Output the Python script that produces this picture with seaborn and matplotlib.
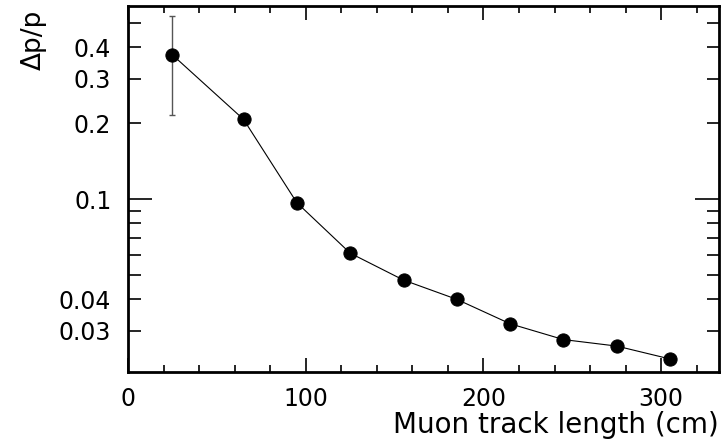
import numpy as np
import pandas as pd
import seaborn as sns
import matplotlib
matplotlib.use("Agg")
import matplotlib.pyplot as plt
from matplotlib.ticker import FixedLocator, FuncFormatter, MultipleLocator

# ===== data =====
track_length = [25, 65, 95, 125, 155, 185, 215, 245, 275, 305]
dp_over_p = [0.373, 0.207, 0.0967, 0.0610, 0.0477, 0.0400, 0.0320, 0.0277, 0.0261, 0.0232]
dp_error = [0.157, 0.007, 0.004, 0.0, 0.0, 0.0, 0.0, 0.0, 0.0, 0.0]

y_labelled = [0.03, 0.04, 0.1, 0.2, 0.3, 0.4]
y_minor = [0.03, 0.04, 0.05, 0.06, 0.07, 0.08, 0.09, 0.2, 0.3, 0.4, 0.5]

df = pd.DataFrame({"length": track_length, "res": dp_over_p, "err": dp_error})

sns.set_style("ticks")
plt.rcParams["font.family"] = ["DejaVu Sans"]
plt.rcParams["text.color"] = "black"
plt.rcParams["axes.labelcolor"] = "black"
plt.rcParams["xtick.color"] = "black"
plt.rcParams["ytick.color"] = "black"

fig = plt.figure(figsize=(7.24, 4.47), dpi=100)
ax = fig.add_axes([128 / 724, 1 - 372 / 447, 591 / 724, 366 / 447])

ax.errorbar(df["length"], df["res"], yerr=df["err"], fmt="none",
            ecolor="#555555", elinewidth=1.0, capsize=2.5, capthick=1.0, zorder=1)
sns.lineplot(data=df, x="length", y="res", ax=ax, color="black", linewidth=0.8,
             marker="o", markersize=9.5, markeredgecolor="black", zorder=2)

ax.set_yscale("log")
ax.set_xlim(0, 332.5)
ax.set_ylim(0.0206, 0.583)

# x ticks
ax.xaxis.set_major_locator(MultipleLocator(100))
ax.xaxis.set_minor_locator(MultipleLocator(20))

# y ticks: only 0.1 gets a long tick, the rest are short ones
ax.yaxis.set_major_locator(FixedLocator([0.1]))
ax.yaxis.set_major_formatter(FuncFormatter(lambda v, p: "0.1"))
ax.yaxis.set_minor_locator(FixedLocator(y_minor))
ax.yaxis.set_minor_formatter(FuncFormatter(
    lambda v, p: ("%g" % v) if any(abs(v - t) < 1e-9 for t in y_labelled) else ""))

ax.tick_params(which="both", direction="in", top=True, right=True, width=1.2, color="black")
ax.tick_params(axis="x", which="major", length=10, labelsize=17, pad=11)
ax.tick_params(axis="x", which="minor", length=5)
ax.tick_params(axis="y", which="major", length=17, labelsize=17, pad=12)
ax.tick_params(axis="y", which="minor", length=9, labelsize=17, pad=12)

for s in ax.spines.values():
    s.set_linewidth(2)
    s.set_color("black")

ax.set_xlabel("Muon track length (cm)", fontsize=20, loc="right")
ax.xaxis.set_label_coords(1.0, -0.107)
ax.set_ylabel("\u0394p/p", fontsize=19, loc="top")
ax.yaxis.set_label_coords(-0.137, 0.99)

fig.savefig("out.png", dpi=100)
